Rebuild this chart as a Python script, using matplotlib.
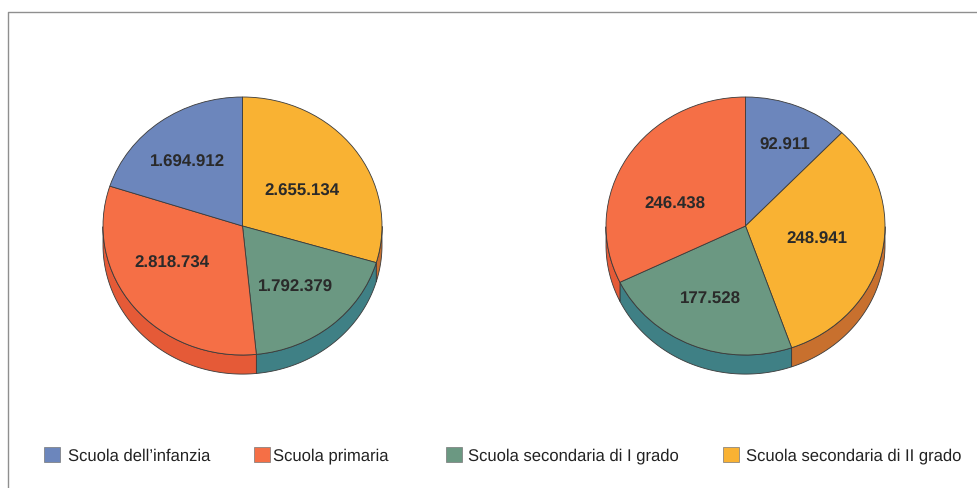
import numpy as np
import matplotlib
matplotlib.use("Agg")
import matplotlib.pyplot as plt
from matplotlib.patches import Rectangle

plt.rcParams['font.family'] = ['Liberation Sans', 'DejaVu Sans']
plt.rcParams['text.hinting'] = 'none'

W, H = 977, 488

categories = ["Scuola dell’infanzia", "Scuola primaria", "Scuola secondaria di I grado", "Scuola secondaria di II grado"]

# printed numbers, in drawing order: clockwise from 12 o'clock
left_labels = ["2.655.134", "1.792.379", "2.818.734", "1.694.912"]
right_labels = ["92.911", "248.941", "177.528", "246.438"]
right_values = [92911, 248941, 177528, 246438]
# the left pie's slices are not quite proportional to its numbers, so these are read off the picture
left_values = [106.5, 67.8, 113.7, 72.0]

top_colors = {"blue": "#6C86BC", "orange": "#F56F46", "green": "#6B9882", "yellow": "#F9B233"}
side_colors = {"blue": "#4F6A9C", "orange": "#E55A37", "green": "#3F8085", "yellow": "#C8702E"}
left_order = ["yellow", "green", "orange", "blue"]
right_order = ["blue", "yellow", "green", "orange"]
legend_order = ["blue", "orange", "green", "yellow"]

EDGE = "#3a3a3a"
DEPTH = 0.148  # wall height, in pie radii


def drawPie(cx, cy, rx, ry, values, order):
    # axes run a bit past the unit circle and leave room below for the wall
    pad = 1.05
    low = 1.3
    ax = fig.add_axes([(cx - pad * rx) / W, 1 - (cy + low * ry) / H,
                       2 * pad * rx / W, (pad + low) * ry / H])
    wedges, _ = ax.pie(values, colors=[top_colors[k] for k in order], startangle=90,
                       counterclock=False, radius=1,
                       wedgeprops={"edgecolor": EDGE, "linewidth": 0.6, "zorder": 3})
    ax.set_aspect("auto")
    ax.set_xlim(-pad, pad)
    ax.set_ylim(-low, pad)

    for wedge, key in zip(wedges, order):
        # only the part of each slice on the front half has a visible wall
        a, b = wedge.theta1 % 360, wedge.theta2 % 360 or 360
        if b < a:
            b += 360
        t = np.radians(np.linspace(a, b, 300))
        t = t[np.sin(t) <= 0]
        if len(t) < 2:
            continue
        xs = np.concatenate([np.cos(t), np.cos(t[::-1])])
        ys = np.concatenate([np.sin(t), np.sin(t[::-1]) - DEPTH])
        ax.fill(xs, ys, facecolor=side_colors[key], edgecolor=EDGE, linewidth=0.6, zorder=1)
    return ax


fig = plt.figure(figsize=(W / 100, H / 100), dpi=100, facecolor="white")

# page frame
fig.add_artist(plt.Line2D([8 / W, 8 / W, 1], [0, 1 - 12 / H, 1 - 12 / H], color="#8f8f8f", linewidth=1.0))

drawPie(242.5, 226, 139.5, 129, left_values, left_order)
drawPie(745.5, 226, 139.5, 129, right_values, right_order)

left_pos = [(301.5, 191.5), (295.5, 287.5), (171.5, 263.5), (187.5, 162.5)]
right_pos = [(785, 145.5), (817, 239.5), (710, 299.5), (675, 204.5)]
for labels, pos in [(left_labels, left_pos), (right_labels, right_pos)]:
    for txt, (x, y) in zip(labels, pos):
        fig.text(x / W, 1 - y / H, txt, ha="center", va="center", fontsize=12.2,
                 fontweight="bold", color="#2a2a2a")

box_x = [44, 254, 446, 723]
text_x = [68, 273, 468, 746]
for name, key, bx, tx in zip(categories, legend_order, box_x, text_x):
    fig.add_artist(Rectangle((bx / W, 1 - 462 / H), 16 / W, 15 / H, transform=fig.transFigure,
                             facecolor=top_colors[key], edgecolor="#777777", linewidth=0.5))
    fig.text(tx / W, 1 - 456 / H, name, ha="left", va="center", fontsize=12, color="#222222")

fig.savefig("out.png", dpi=100, facecolor="white")
